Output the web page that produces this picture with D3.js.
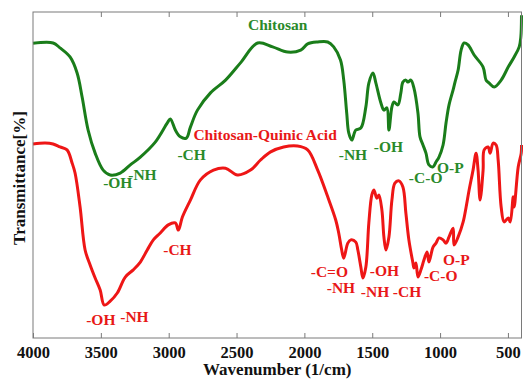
<!DOCTYPE html>
<html>
<head>
<meta charset="utf-8">
<script src="https://cdn.jsdelivr.net/npm/d3@7"></script>
<style>
  html, body { margin: 0; padding: 0; background: #fff; }
  svg { display: block; }
</style>
</head>
<body>
<svg id="chart" width="524" height="380"></svg>
<script>
// ---- Data (wavenumber in 1/cm, transmittance in arbitrary %) ----
const xTicks = [4000, 3500, 3000, 2500, 2000, 1500, 1000, 500];

const chitosanWave = [4000, 3852, 3801, 3727, 3675, 3638, 3594, 3542, 3483, 3431, 3357, 3283, 3209, 3099, 3010, 2988, 2951, 2914, 2870, 2840, 2788, 2692, 2581, 2471, 2345, 2234, 2123, 2027, 1976, 1902, 1828, 1784, 1734, 1710, 1688, 1673, 1651, 1621, 1584, 1547, 1525, 1495, 1473, 1436, 1414, 1392, 1377, 1355, 1340, 1311, 1289, 1274, 1252, 1237, 1215, 1193, 1163, 1148, 1126, 1104, 1082, 1052, 1030, 1008, 978, 956, 934, 904, 890, 867, 845, 823, 794, 749, 683, 661, 638, 601, 550, 498, 454, 417, 405, 400];
const chitosanT    = [90.4, 90.5, 89.0, 86.2, 81.3, 73.9, 63.8, 56.7, 51.5, 50.0, 50.6, 53.1, 55.5, 60.1, 66.0, 67.2, 63.8, 61.7, 61.3, 64.7, 69.9, 75.2, 79.1, 84.4, 90.5, 89.3, 87.7, 88.3, 90.2, 90.8, 90.8, 89.3, 85.3, 79.1, 69.0, 62.9, 60.7, 63.8, 64.4, 70.9, 78.2, 81.3, 78.2, 72.1, 69.9, 70.6, 63.8, 70.9, 72.4, 71.5, 75.2, 78.5, 79.1, 78.5, 79.1, 76.7, 69.0, 61.7, 59.2, 56.7, 53.1, 52.5, 54.0, 55.5, 59.2, 66.0, 71.5, 76.1, 78.5, 82.2, 88.3, 90.5, 89.9, 86.8, 83.1, 79.1, 78.2, 77.0, 79.1, 83.1, 86.2, 89.3, 92.3, 99.0];

const cqaWave = [4000, 3911, 3852, 3801, 3749, 3712, 3690, 3653, 3616, 3579, 3542, 3505, 3475, 3431, 3379, 3320, 3261, 3209, 3158, 3113, 3062, 3003, 2951, 2929, 2899, 2840, 2766, 2670, 2581, 2493, 2397, 2323, 2249, 2153, 2050, 1976, 1902, 1828, 1769, 1747, 1725, 1710, 1680, 1658, 1621, 1606, 1584, 1569, 1547, 1525, 1503, 1488, 1466, 1451, 1429, 1414, 1399, 1377, 1355, 1333, 1303, 1274, 1252, 1230, 1200, 1193, 1178, 1163, 1141, 1119, 1096, 1082, 1052, 1030, 1008, 978, 956, 934, 904, 897, 867, 830, 808, 786, 757, 735, 720, 705, 683, 675, 646, 631, 609, 587, 572, 550, 528, 498, 483, 461, 454, 424, 402, 400];
const cqaT    = [59.5, 59.8, 59.5, 58.6, 57.7, 53.7, 50.6, 40.2, 27.0, 22.4, 18.4, 14.7, 10.1, 11.3, 13.8, 18.7, 20.9, 23.3, 27.0, 30.1, 32.2, 34.7, 35.3, 33.1, 37.1, 42.3, 48.5, 51.5, 52.1, 50.0, 51.5, 54.6, 57.1, 58.6, 58.9, 57.7, 51.5, 43.3, 36.2, 32.2, 27.0, 24.5, 29.1, 30.1, 29.4, 27.0, 21.8, 18.4, 21.8, 35.3, 43.9, 45.4, 42.9, 43.9, 39.3, 31.0, 27.0, 31.0, 42.3, 47.5, 48.2, 46.3, 38.3, 30.1, 23.0, 21.5, 23.0, 18.7, 20.9, 23.9, 26.4, 23.3, 27.9, 29.1, 30.7, 30.1, 29.1, 31.0, 33.7, 28.5, 31.0, 35.6, 40.2, 45.4, 51.5, 56.7, 51.5, 42.3, 51.5, 57.7, 58.6, 56.7, 59.8, 59.2, 54.6, 40.2, 35.6, 36.8, 35.6, 43.3, 40.2, 52.5, 56.7, 59.2];

// annotation labels: text, wavenumber, transmittance (baseline), series
const labelText   = ["Chitosan", "-OH", "-NH", "-CH", "-NH", "-OH", "-C-O", "O-P",
                     "Chitosan-Quinic Acid", "-OH", "-NH", "-CH", "-C=O", "-NH", "-NH", "-OH", "-CH", "-C-O", "O-P"];
const labelWave   = [2197, 3483, 3298, 2936, 1747, 1488, 1230, 1023,
                     2818, 3608, 3357, 3040, 1953, 1835, 1584, 1518, 1348, 1119, 978];
const labelT      = [94.5, 46.0, 48.5, 54.6, 54.6, 57.1, 47.5, 50.6,
                     60.7, 4.0, 4.9, 25.5, 18.7, 13.8, 12.6, 19.0, 12.6, 17.5, 22.4];
const labelSeries = ["g", "g", "g", "g", "g", "g", "g", "g",
                     "r", "r", "r", "r", "r", "r", "r", "r", "r", "r", "r"];

// ---- Drawing ----
const W = 524, H = 380;
const m = { left: 33, right: 2.5, top: 12, bottom: 42 };
const svg = d3.select("#chart");
const font = "'Liberation Serif', 'Times New Roman', serif";
const green = "#1a7d1a", red = "#ee1616";
const gText = "#2a8a2a", rText = "#e81818";

const x = d3.scaleLinear().domain([4000, 400]).range([m.left, W - m.right]);
const y = d3.scaleLinear().domain([0, 100]).range([H - m.bottom, m.top]);

const line = d3.line().x(d => x(d[0])).y(d => y(d[1])).curve(d3.curveCatmullRom.alpha(0.5));

const chitosan = chitosanWave.map((w, i) => [w, chitosanT[i]]);
const cqa = cqaWave.map((w, i) => [w, cqaT[i]]);

svg.append("path").datum(chitosan).attr("d", line)
  .attr("fill", "none").attr("stroke", green).attr("stroke-width", 3)
  .attr("stroke-linejoin", "round");
svg.append("path").datum(cqa).attr("d", line)
  .attr("fill", "none").attr("stroke", red).attr("stroke-width", 3)
  .attr("stroke-linejoin", "round");

// frame
const frameColor = "#7a7a7a";
svg.append("rect")
  .attr("x", m.left).attr("y", m.top)
  .attr("width", W - m.right - m.left).attr("height", H - m.bottom - m.top)
  .attr("fill", "none").attr("stroke", frameColor).attr("stroke-width", 1);

// bottom axis (ticks pointing inward)
const xAxis = d3.axisBottom(x).tickValues(xTicks).tickSizeInner(-5).tickSizeOuter(0).tickPadding(8).tickFormat(d3.format("d"));
const gx = svg.append("g").attr("transform", `translate(0,${H - m.bottom})`).call(xAxis);
gx.select(".domain").remove();
gx.selectAll(".tick line").attr("stroke", frameColor);
gx.selectAll(".tick text").attr("font-family", font).attr("font-size", 16.5)
  .attr("font-weight", "bold").attr("fill", "#111");

// top axis ticks (inward)
const xTop = d3.axisTop(x).tickValues(xTicks.slice(1)).tickSizeInner(-5).tickSizeOuter(0).tickFormat("");
const gt = svg.append("g").attr("transform", `translate(0,${m.top})`).call(xTop);
gt.select(".domain").remove();
gt.selectAll(".tick line").attr("stroke", frameColor);

// axis titles
svg.append("text")
  .attr("x", (m.left + W - m.right) / 2).attr("y", 375)
  .attr("text-anchor", "middle").attr("font-family", font)
  .attr("font-size", 17).attr("font-weight", "bold").attr("fill", "#111")
  .text("Wavenumber (1/cm)");
svg.append("text")
  .attr("transform", `translate(25,178) rotate(-90)`)
  .attr("text-anchor", "middle").attr("font-family", font)
  .attr("font-size", 17).attr("font-weight", "bold").attr("fill", "#111")
  .text("Transmittance[%]");

// annotations
labelText.forEach((t, i) => {
  svg.append("text")
    .attr("x", x(labelWave[i])).attr("y", y(labelT[i]))
    .attr("text-anchor", i === 0 ? "middle" : "start")
    .attr("font-family", font).attr("font-size", 15.5).attr("font-weight", "bold")
    .attr("fill", labelSeries[i] === "g" ? gText : rText)
    .text(t);
});
</script>
</body>
</html>
